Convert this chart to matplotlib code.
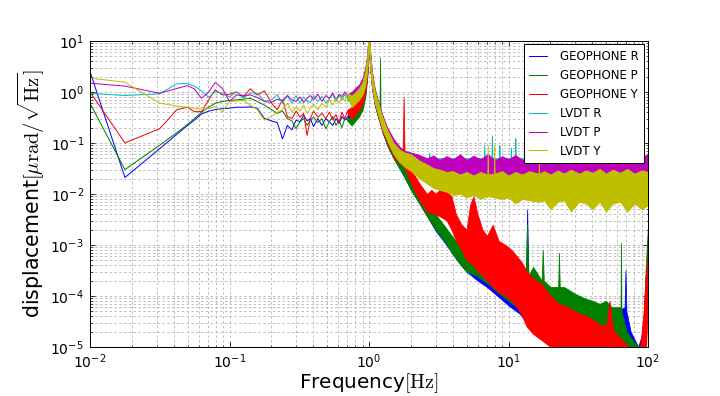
import matplotlib
matplotlib.use("Agg")
import matplotlib.pyplot as plt

plt.rcParams['mathtext.fontset'] = 'cm'
plt.rcParams['axes.unicode_minus'] = False
plt.rcParams['font.family'] = ['DejaVu Sans']

# ---------------- low-frequency part (individual lines) ----------------
f_low = [0.01, 0.0178, 0.0316, 0.042, 0.05, 0.056, 0.063, 0.071, 0.079, 0.089,
         0.1, 0.112, 0.126, 0.141, 0.158, 0.178, 0.2, 0.22, 0.24, 0.26,
         0.28, 0.3, 0.32, 0.34, 0.36, 0.38, 0.40, 0.43, 0.46, 0.49,
         0.52, 0.55, 0.58, 0.61, 0.64, 0.67, 0.70]

geo_r_low = [2.5, 0.021, 0.077, 0.148, 0.22, 0.28, 0.37, 0.42, 0.45, 0.47,
             0.48, 0.5, 0.5, 0.51, 0.48, 0.3, 0.27, 0.25, 0.12, 0.22,
             0.18, 0.28, 0.26, 0.35, 0.27, 0.3, 0.21, 0.3, 0.22, 0.3,
             0.26, 0.22, 0.3, 0.24, 0.33, 0.28, 0.32]
geo_p_low = [0.6, 0.03, 0.09, 0.16, 0.23, 0.3, 0.4, 0.5, 0.6, 0.65,
             0.68, 0.7, 0.72, 0.75, 0.65, 0.55, 0.45, 0.38, 0.42, 0.3,
             0.27, 0.19, 0.26, 0.3, 0.22, 0.28, 0.32, 0.25, 0.3, 0.19,
             0.26, 0.33, 0.22, 0.28, 0.2, 0.3, 0.28]
geo_y_low = [1.0, 0.1, 0.19, 0.45, 0.5, 0.41, 0.41, 0.7, 1.1, 0.87,
             0.9, 1.0, 0.8, 1.15, 0.87, 1.05, 0.6, 0.45, 0.7, 0.33,
             0.3, 0.42, 0.32, 0.38, 0.14, 0.3, 0.42, 0.32, 0.38, 0.3,
             0.4, 0.28, 0.36, 0.25, 0.4, 0.3, 0.41]
lvdt_r_low = [0.94, 0.85, 0.92, 1.45, 1.45, 1.3, 1.05, 0.78, 1.0, 0.95,
              0.8, 1.0, 0.75, 0.95, 0.95, 0.65, 0.7, 0.87, 0.6, 0.85,
              0.6, 0.85, 0.6, 0.8, 0.65, 0.62, 0.85, 0.65, 0.82, 0.6,
              0.75, 0.9, 0.65, 0.85, 0.7, 0.9, 0.75]
lvdt_p_low = [1.48, 1.3, 0.94, 1.17, 1.33, 1.15, 0.75, 1.0, 1.52, 1.17,
              0.65, 0.87, 0.85, 0.87, 0.78, 0.65, 0.62, 0.72, 0.68, 0.85,
              0.7, 0.65, 0.8, 0.62, 0.75, 0.85, 0.7, 0.9, 0.65, 0.85,
              0.75, 0.95, 0.7, 0.9, 0.8, 1.0, 0.85]
lvdt_y_low = [1.86, 1.55, 0.6, 0.53, 0.5, 0.48, 0.46, 0.47, 0.51, 0.41,
              0.65, 0.66, 0.68, 0.55, 0.45, 0.28, 0.33, 0.4, 0.45, 0.6,
              0.4, 0.5, 0.42, 0.55, 0.38, 0.48, 0.58, 0.45, 0.6, 0.5,
              0.7, 0.55, 0.75, 0.6, 0.8, 0.65, 0.9]

# ---------------- high-frequency part (noise envelopes) ----------------
geo_r_f = [0.70, 0.75, 0.80, 0.85, 0.90, 0.94, 0.97, 0.99, 1.00, 1.02,
           1.05, 1.10, 1.17, 1.25, 1.35, 1.5, 1.65, 1.8, 2.0, 2.3,
           2.6, 3.0, 3.5, 4.0, 4.5, 5.0, 6.0, 7.0, 8.0, 10,
           12, 13.3, 13.6, 13.9, 17, 20, 25, 30, 40, 50,
           60, 68, 69, 70, 75, 85, 92, 96, 100]
geo_r_lo = [0.3, 0.25, 0.3, 0.38, 0.5, 0.9, 2, 5, 8, 3,
            1.2, 0.55, 0.3, 0.16, 0.09, 0.05, 0.032, 0.021, 0.012, 0.0065,
            0.0037, 0.0019, 1.1e-3, 6.5e-4, 4.2e-4, 3e-4, 2e-4, 1.5e-4, 1.1e-4, 6.5e-5,
            4.5e-5, 3.2e-5, 3.2e-5, 3.2e-5, 2.2e-5, 1.6e-5, 1.1e-5, 8e-6, 6e-6, 5e-6,
            4e-6, 3.5e-6, 3.5e-6, 3.5e-6, 3e-6, 2e-6, 4e-6, 1e-5, 2e-4]
geo_r_hi = [0.34, 0.4, 0.48, 0.6, 0.8, 1.5, 3.5, 12, 15, 5,
            2.0, 0.9, 0.48, 0.26, 0.15, 0.085, 0.052, 0.034, 0.021, 0.012,
            0.0065, 0.0035, 2e-3, 1.3e-3, 8e-4, 6e-4, 5e-4, 4e-4, 3e-4, 2e-4,
            1.5e-4, 1.2e-4, 5e-3, 1.2e-4, 1e-4, 8e-5, 6e-5, 5e-5, 4e-5, 4e-5,
            5e-5, 6e-5, 3.2e-4, 5e-5, 2e-5, 1e-5, 2e-5, 2e-4, 1.5e-3]

geo_p_f = [0.70, 0.75, 0.80, 0.85, 0.90, 0.94, 0.97, 0.99, 1.00, 1.02,
           1.05, 1.10, 1.17, 1.19, 1.20, 1.21, 1.25, 1.35, 1.5, 1.65,
           1.8, 2.0, 2.3, 2.6, 3.0, 3.5, 4.0, 4.5, 5.0, 5.5,
           6.0, 7.0, 8.0, 10, 12, 13.3, 13.6, 13.9, 15, 17.3,
           17.6, 17.9, 20, 22.7, 23, 23.3, 25, 30, 35, 40,
           45, 50, 55, 60, 63.5, 64, 64.5, 66, 70, 80,
           88, 93, 96, 100]
geo_p_lo = [0.27, 0.22, 0.27, 0.33, 0.45, 0.8, 1.8, 4.5, 8, 3,
            1.2, 0.55, 0.3, 0.27, 0.27, 0.25, 0.17, 0.09, 0.05, 0.032,
            0.021, 0.012, 0.0065, 0.0037, 0.002, 1.15e-3, 6.5e-4, 4.2e-4, 3e-4, 2.7e-4,
            2.4e-4, 1.8e-4, 1.3e-4, 8e-5, 5.5e-5, 4.5e-5, 4.5e-5, 4.5e-5, 3.8e-5, 3e-5,
            3e-5, 3e-5, 2.2e-5, 1.8e-5, 1.8e-5, 1.8e-5, 1.6e-5, 1.3e-5, 1.1e-5, 1e-5,
            9e-6, 8e-6, 8e-6, 7e-6, 6e-6, 6e-6, 6e-6, 5e-6, 4e-6, 3e-6,
            3e-6, 5e-6, 1.2e-5, 4e-4]
geo_p_hi = [0.3, 0.36, 0.43, 0.55, 0.75, 1.4, 3.2, 11, 15, 5,
            2.0, 0.9, 0.5, 0.45, 4.7, 0.42, 0.28, 0.16, 0.09, 0.055,
            0.036, 0.022, 0.013, 0.007, 0.004, 2.3e-3, 1.4e-3, 9e-4, 8e-4, 9e-4,
            6e-4, 5e-4, 4e-4, 3e-4, 2.5e-4, 2.5e-4, 2.5e-3, 2.5e-4, 3.7e-4, 2e-4,
            8e-4, 2e-4, 1.5e-4, 1.5e-4, 7e-4, 1.5e-4, 1.5e-4, 1.1e-4, 9e-5, 8e-5,
            7e-5, 8e-5, 6e-5, 6e-5, 6e-5, 1.1e-3, 5e-5, 4e-5, 2e-5, 1.2e-5,
            1e-5, 3e-5, 3e-4, 2.5e-3]

geo_y_f = [0.70, 0.75, 0.80, 0.85, 0.90, 0.94, 0.97, 0.99, 1.00, 1.02,
           1.05, 1.10, 1.17, 1.25, 1.35, 1.5, 1.65, 1.74, 1.77, 1.8,
           2.0, 2.3, 2.6, 2.8, 3.0, 3.3, 3.6, 3.9, 4.2, 4.6,
           5.0, 5.3, 5.6, 6.0, 6.5, 7.0, 7.7, 8.5, 9.5, 10.5,
           11.5, 12.5, 13.5, 15, 17, 20, 23, 27, 32, 37,
           43, 50, 53, 56, 62, 70, 80, 88, 93, 97,
           100]
geo_y_lo = [0.38, 0.3, 0.35, 0.45, 0.6, 1.0, 2, 5, 8, 3,
            1.3, 0.6, 0.32, 0.17, 0.1, 0.055, 0.04, 0.036, 0.036, 0.032,
            0.016, 0.0075, 0.0045, 0.0042, 0.004, 0.0035, 0.003, 0.002, 1.2e-3, 8e-4,
            5e-4, 4.5e-4, 4e-4, 3e-4, 2.5e-4, 2e-4, 1.5e-4, 1.2e-4, 1e-4, 8e-5,
            6e-5, 4e-5, 2.5e-5, 1.8e-5, 1.4e-5, 1e-5, 8e-6, 7e-6, 6e-6, 5e-6,
            4e-6, 3e-6, 3e-6, 3e-6, 2.5e-6, 2e-6, 2e-6, 2e-6, 4e-6, 1e-5,
            1e-4]
geo_y_hi = [0.45, 0.5, 0.6, 0.75, 1.0, 1.7, 4, 12, 15, 5.5,
            2.2, 1.0, 0.55, 0.3, 0.17, 0.095, 0.065, 0.06, 0.8, 0.055,
            0.03, 0.016, 0.01, 0.012, 0.01, 0.013, 0.011, 0.009, 4e-3, 2.5e-3,
            2e-3, 6e-3, 9e-3, 4e-3, 2e-3, 1.5e-3, 2.5e-3, 1.2e-3, 1e-3, 8e-4,
            6e-4, 4.5e-4, 3e-4, 2.2e-4, 1.8e-4, 1e-4, 7e-5, 6e-5, 4.5e-5, 4e-5,
            3e-5, 2.5e-5, 8e-5, 2.2e-5, 1.6e-5, 1.1e-5, 9e-6, 1e-5, 5e-5, 3e-4,
            7e-4]

lvdt_r_f = [0.70, 0.75, 0.80, 0.85, 0.90, 0.94, 0.97, 0.99, 1.00, 1.02,
            1.05, 1.10, 1.17, 1.25, 1.35, 1.5, 1.65, 1.8, 2.0, 2.3,
            2.68, 2.7, 2.72, 3.0, 4.0, 5.0, 6.0, 6.65, 6.7, 6.75,
            7.55, 7.6, 7.65, 8.55, 8.6, 8.65, 10.35, 10.4, 10.45, 11.15,
            11.2, 11.25, 13, 16, 20, 30, 40, 50, 60, 70,
            80, 90, 100]
lvdt_r_lo = [0.7, 0.6, 0.7, 0.85, 1.1, 1.6, 3, 6, 8, 3,
             1.4, 0.65, 0.35, 0.2, 0.12, 0.07, 0.05, 0.04, 0.032, 0.027,
             0.025, 0.025, 0.025, 0.024, 0.023, 0.022, 0.022, 0.022, 0.022, 0.022,
             0.022, 0.022, 0.022, 0.022, 0.022, 0.022, 0.022, 0.022, 0.022, 0.022,
             0.022, 0.022, 0.022, 0.022, 0.022, 0.022, 0.022, 0.022, 0.022, 0.022,
             0.022, 0.022, 0.022]
lvdt_r_hi = [0.8, 0.95, 1.1, 1.3, 1.8, 2.8, 5, 12, 15, 6,
             2.4, 1.1, 0.6, 0.33, 0.19, 0.11, 0.08, 0.065, 0.058, 0.052,
             0.05, 0.065, 0.05, 0.05, 0.05, 0.05, 0.05, 0.05, 0.09, 0.05,
             0.05, 0.14, 0.05, 0.05, 0.09, 0.05, 0.05, 0.08, 0.05, 0.05,
             0.125, 0.05, 0.05, 0.05, 0.05, 0.05, 0.05, 0.05, 0.05, 0.05,
             0.05, 0.05, 0.05]

lvdt_p_f = [0.70, 0.75, 0.80, 0.85, 0.90, 0.94, 0.97, 0.99, 1.00, 1.02,
            1.05, 1.10, 1.17, 1.25, 1.35, 1.5, 1.65, 1.8, 2.0, 2.3,
            2.6, 2.9, 3.2, 3.6, 4.0, 4.5, 5.0, 5.6, 6.3, 7.1,
            8.0, 9.0, 10, 11.2, 12.6, 14, 16, 18, 20, 22.5,
            25, 28, 32, 36, 40, 45, 50, 56, 63, 71,
            80, 90, 100]
lvdt_p_lo = [0.8, 0.65, 0.75, 0.9, 1.1, 1.6, 3, 6, 8, 3,
             1.4, 0.65, 0.36, 0.2, 0.12, 0.07, 0.05, 0.042, 0.035, 0.028,
             0.026, 0.024, 0.025, 0.022, 0.024, 0.021, 0.023, 0.02, 0.022, 0.021,
             0.023, 0.02, 0.022, 0.021, 0.02, 0.022, 0.021, 0.02, 0.022, 0.02,
             0.021, 0.022, 0.02, 0.021, 0.02, 0.022, 0.021, 0.02, 0.022, 0.021,
             0.02, 0.022, 0.021]
lvdt_p_hi = [0.9, 1.0, 1.2, 1.4, 1.9, 3.0, 5.5, 12, 15, 6,
             2.5, 1.15, 0.62, 0.35, 0.2, 0.12, 0.085, 0.07, 0.065, 0.058,
             0.05, 0.057, 0.046, 0.055, 0.048, 0.06, 0.046, 0.056, 0.048, 0.06,
             0.046, 0.055, 0.048, 0.058, 0.046, 0.056, 0.05, 0.06, 0.046, 0.055,
             0.048, 0.06, 0.046, 0.056, 0.049, 0.058, 0.046, 0.055, 0.05, 0.06,
             0.046, 0.056, 0.058]

lvdt_y_f = [0.70, 0.75, 0.80, 0.85, 0.90, 0.94, 0.97, 0.99, 1.00, 1.02,
            1.05, 1.10, 1.17, 1.25, 1.35, 1.5, 1.65, 1.8, 2.0, 2.3,
            2.6, 2.9, 3.2, 3.6, 4.0, 4.5, 5.0, 5.6, 6.3, 7.05,
            7.1, 7.15, 7.85, 7.9, 7.95, 9.0, 10, 11.2, 12.6, 14,
            16.4, 16.5, 16.6, 18, 20, 22.5, 25, 28, 32, 36,
            40, 45, 50, 56, 63, 71, 80, 90, 100]
lvdt_y_lo = [0.85, 0.5, 0.6, 0.7, 0.9, 1.3, 2.5, 5.5, 8, 3,
             1.3, 0.6, 0.33, 0.18, 0.11, 0.06, 0.042, 0.034, 0.028, 0.02,
             0.016, 0.013, 0.012, 0.011, 0.0095, 0.01, 0.0085, 0.0095, 0.008, 0.009,
             0.009, 0.009, 0.0085, 0.0085, 0.0085, 0.008, 0.0085, 0.0065, 0.008, 0.0075,
             0.007, 0.007, 0.007, 0.0075, 0.005, 0.007, 0.0075, 0.0045, 0.007, 0.0065,
             0.005, 0.007, 0.0045, 0.0065, 0.007, 0.0045, 0.0065, 0.005, 0.006]
lvdt_y_hi = [0.95, 0.85, 1.0, 1.2, 1.6, 2.6, 5, 12, 15, 5.5,
             2.3, 1.05, 0.58, 0.32, 0.18, 0.1, 0.075, 0.065, 0.06, 0.045,
             0.038, 0.032, 0.03, 0.027, 0.028, 0.024, 0.027, 0.023, 0.027, 0.024,
             0.09, 0.024, 0.025, 0.09, 0.025, 0.028, 0.023, 0.027, 0.024, 0.028,
             0.025, 0.04, 0.025, 0.028, 0.024, 0.029, 0.025, 0.03, 0.025, 0.029,
             0.026, 0.031, 0.025, 0.03, 0.026, 0.031, 0.025, 0.029, 0.027]

labels = ['GEOPHONE R', 'GEOPHONE P', 'GEOPHONE Y', 'LVDT R', 'LVDT P', 'LVDT Y']
colors = ['b', 'g', 'r', 'c', 'm', 'y']

series = [
    (geo_r_low, geo_r_f, geo_r_lo, geo_r_hi),
    (geo_p_low, geo_p_f, geo_p_lo, geo_p_hi),
    (geo_y_low, geo_y_f, geo_y_lo, geo_y_hi),
    (lvdt_r_low, lvdt_r_f, lvdt_r_lo, lvdt_r_hi),
    (lvdt_p_low, lvdt_p_f, lvdt_p_lo, lvdt_p_hi),
    (lvdt_y_low, lvdt_y_f, lvdt_y_lo, lvdt_y_hi),
]

fig = plt.figure(figsize=(10, 5.5), dpi=72)
ax = fig.add_axes([0.125, 0.124, 0.775, 0.7727])

handles = []
for (low, hf, lo, hi), lab, c in zip(series, labels, colors):
    ln, = ax.plot(f_low, low, color=c, lw=1.0, label=lab)
    ax.fill_between(hf, lo, hi, color=c, lw=0.8, edgecolor=c)
    handles.append(ln)

ax.set_xscale('log')
ax.set_yscale('log')
ax.set_xlim(0.01, 100)
ax.set_ylim(1e-5, 10)

ax.grid(True, which='both', ls=(0, (3, 3)), color='#b0b0b0', lw=0.8)
ax.set_axisbelow(True)
ax.tick_params(which='both', direction='in', top=True, right=True)
ax.tick_params(which='major', length=5, labelsize=14, pad=6)
ax.tick_params(which='minor', length=2.5)
for s in ax.spines.values():
    s.set_linewidth(1.0)

ax.set_xlabel(r'Frequency$[\mathrm{Hz}]$', fontsize=20, labelpad=0)
ax.set_ylabel(r'displacement$[\mu\mathrm{rad}/\sqrt{\mathrm{Hz}}]$', fontsize=20.5, labelpad=3)

leg = ax.legend(handles=handles, loc='upper right', fontsize=11.7,
                fancybox=False, framealpha=1, edgecolor='k',
                handlelength=1.5, handletextpad=1.1, labelspacing=0.5,
                borderpad=0.5, borderaxespad=0.3)
leg.get_frame().set_linewidth(1.0)

fig.savefig('out.png', dpi=72)
